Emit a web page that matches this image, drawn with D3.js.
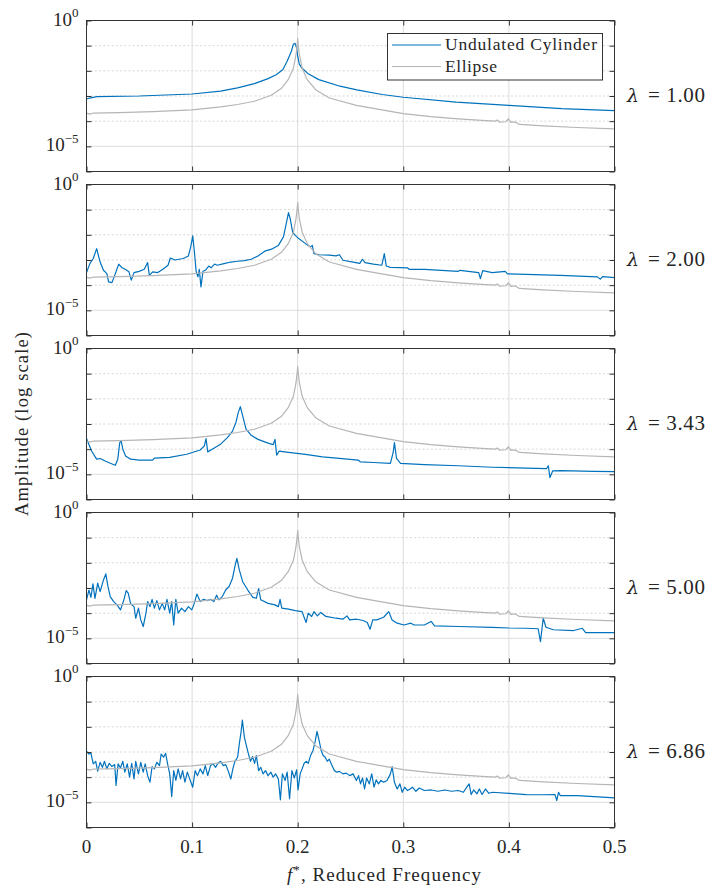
<!DOCTYPE html>
<html><head><meta charset="utf-8">
<script src="https://cdn.jsdelivr.net/npm/d3@7"></script>
<style>body{margin:0;background:#fff}svg{display:block}text{font-family:"Liberation Serif","Times New Roman",serif;fill:#262626}</style>
</head><body>
<svg id="chart" width="707" height="888"></svg>
<script>
// ---------- data ----------
const freqTicks = [0, 0.1, 0.2, 0.3, 0.4, 0.5];
const freqTickLabels = ["0", "0.1", "0.2", "0.3", "0.4", "0.5"];
const ampMajorTicks = [1, 1e-5];
const ampMajorLabels = [["10", "0"], ["10", "\u22125"]];
const ampMinorTicks = [1e-1, 1e-2, 1e-3, 1e-4];
const ampAllTicks = [1, 1e-1, 1e-2, 1e-3, 1e-4, 1e-5, 1e-6];
const lambdaLabels = ["1.00", "2.00", "3.43", "5.00", "6.86"];
const seriesNames = ["Undulated Cylinder", "Ellipse"];

// Ellipse reference spectrum (same in every panel): [f*, amplitude]
const ellipse = [[0,2.09e-4],[0.003,1.9e-4],[0.006,2.07e-4],[0.031,2.19e-4],[0.063,2.4e-4],[0.1,2.82e-4],[0.127,3.72e-4],[0.143,4.6e-4],[0.159,6.2e-4],[0.175,1.07e-3],[0.185,2.09e-3],[0.191,4.47e-3],[0.196,1.29e-2],[0.1984,4.37e-2],[0.1995,0.11],[0.2,0.19],[0.2005,0.11],[0.2016,4.37e-2],[0.2042,1.29e-2],[0.209,4.47e-3],[0.217,1.78e-3],[0.23,8.3e-4],[0.2556,4.27e-4],[0.2878,2.45e-4],[0.3,2.0e-4],[0.326,1.51e-4],[0.352,1.23e-4],[0.378,1.05e-4],[0.3875,1.0e-4],[0.389,1.12e-4],[0.391,9.1e-5],[0.397,9.5e-5],[0.3995,1.23e-4],[0.402,8.9e-5],[0.406,9.3e-5],[0.41,7.4e-5],[0.4325,6.5e-5],[0.4646,5.6e-5],[0.5,4.9e-5]];

// Undulated cylinder, lambda = 1.00
const cylinder1 = [[0,7.6e-4],[0.003,8.3e-4],[0.01,9.5e-4],[0.05,1.0e-3],[0.1,1.2e-3],[0.127,1.55e-3],[0.143,2.09e-3],[0.159,3.09e-3],[0.172,4.9e-3],[0.18,7.1e-3],[0.186,1.12e-2],[0.19,2.4e-2],[0.194,6.0e-2],[0.196,0.117],[0.1975,0.123],[0.199,8.1e-2],[0.2,3.8e-2],[0.2015,1.86e-2],[0.204,1.29e-2],[0.21,7.6e-3],[0.22,4.47e-3],[0.24,2.45e-3],[0.256,1.74e-3],[0.28,1.15e-3],[0.3,8.9e-4],[0.35,5.75e-4],[0.4,4.27e-4],[0.45,3.16e-4],[0.5,2.63e-4]];

// lambda = 2.00
const cylinder2 = [[0,3.16e-4],[0.0032,7.2e-4],[0.0064,1.15e-3],[0.0096,2.82e-3],[0.0129,8.3e-4],[0.0161,3.9e-4],[0.0193,2.88e-4],[0.0209,1.35e-4],[0.0241,1.26e-4],[0.0273,2.88e-4],[0.0305,6.8e-4],[0.0338,4.9e-4],[0.037,4.17e-4],[0.0402,3.39e-4],[0.0424,1.58e-4],[0.045,3.16e-4],[0.0498,3.55e-4],[0.0547,4.27e-4],[0.0579,7.9e-4],[0.0595,2.45e-4],[0.0627,3.39e-4],[0.0675,3.16e-4],[0.0723,4.27e-4],[0.0772,6.2e-4],[0.0794,1.2e-3],[0.0836,1.0e-3],[0.0916,1.15e-3],[0.0965,1.45e-3],[0.0987,3.31e-3],[0.1006,9.1e-3],[0.1019,2.82e-3],[0.1039,3.39e-4],[0.1055,2.14e-4],[0.1068,4.27e-4],[0.1084,8.5e-5],[0.1103,3.55e-4],[0.1125,3.9e-4],[0.1158,5.75e-4],[0.118,4.9e-4],[0.1212,6.9e-4],[0.1238,6.2e-4],[0.1302,7.2e-4],[0.1367,8.3e-4],[0.1431,8.9e-4],[0.1495,9.5e-4],[0.156,1.07e-3],[0.1624,1.45e-3],[0.1688,2.24e-3],[0.1752,2.69e-3],[0.1817,3.8e-3],[0.1865,8.3e-3],[0.1891,2.75e-2],[0.1913,7.6e-2],[0.1929,4.37e-2],[0.1952,1.29e-2],[0.1977,9.5e-3],[0.201,7.1e-3],[0.2074,4.47e-3],[0.2122,3.31e-3],[0.2138,3.8e-3],[0.2154,1.78e-3],[0.2203,1.62e-3],[0.2299,1.55e-3],[0.2363,1.45e-3],[0.2395,1.62e-3],[0.2428,9.8e-4],[0.2524,8.3e-4],[0.2588,7.4e-4],[0.2614,1.07e-3],[0.2637,7.9e-4],[0.2717,6.9e-4],[0.2797,6.2e-4],[0.282,1.78e-3],[0.2839,5.75e-4],[0.2878,5.1e-4],[0.3039,4.9e-4],[0.3055,4.27e-4],[0.3199,4.27e-4],[0.336,3.9e-4],[0.3521,3.55e-4],[0.3537,3.9e-4],[0.3714,3.16e-4],[0.373,1.82e-4],[0.3752,3.8e-4],[0.3842,3.16e-4],[0.3965,3.55e-4],[0.3987,2.82e-4],[0.4164,2.69e-4],[0.4486,2.45e-4],[0.4839,2.14e-4],[0.4865,1.74e-4],[0.4887,2.19e-4],[0.5,2.0e-4]];

// lambda = 3.43
const cylinder3 = [[0,2.63e-4],[0.0048,8.5e-5],[0.0096,4.0e-5],[0.0129,4.27e-5],[0.0177,3.39e-5],[0.0225,2.75e-5],[0.0273,2.29e-5],[0.0296,4.0e-5],[0.0315,1.82e-4],[0.0328,2.14e-4],[0.0344,1.0e-4],[0.037,5.4e-5],[0.0418,4.0e-5],[0.0498,3.7e-5],[0.0627,3.7e-5],[0.0643,4.37e-5],[0.0788,4.7e-5],[0.0949,6.3e-5],[0.1077,9.3e-5],[0.1116,1.35e-4],[0.1132,2.63e-4],[0.1148,7.8e-5],[0.119,1.0e-4],[0.127,1.58e-4],[0.1334,2.88e-4],[0.1383,5.2e-4],[0.1415,1.15e-3],[0.1437,2.82e-3],[0.1457,4.9e-3],[0.1479,2.09e-3],[0.1511,6.2e-4],[0.156,3.55e-4],[0.1624,2.45e-4],[0.172,1.74e-4],[0.1768,1.51e-4],[0.1785,2.45e-4],[0.1801,5.75e-5],[0.1823,8.3e-5],[0.1913,7.4e-5],[0.2074,6.2e-5],[0.2235,4.9e-5],[0.2395,4.27e-5],[0.2572,3.7e-5],[0.2595,3.1e-5],[0.2717,2.95e-5],[0.2878,2.75e-5],[0.2904,7.4e-5],[0.2916,1.82e-4],[0.2936,4.27e-5],[0.2974,2.75e-5],[0.3199,2.45e-5],[0.3521,2.19e-5],[0.3842,1.91e-5],[0.4164,1.78e-5],[0.4357,1.7e-5],[0.4373,2.19e-5],[0.4389,7.4e-6],[0.4415,1.38e-5],[0.4486,1.41e-5],[0.4807,1.32e-5],[0.5,1.29e-5]];

// lambda = 5.00
const cylinder4 = [[0,3.39e-4],[0.0023,8.3e-4],[0.0042,4.27e-4],[0.0061,1.45e-3],[0.008,3.9e-4],[0.0106,1.55e-3],[0.0129,7.2e-4],[0.0161,2.09e-3],[0.0183,3.63e-3],[0.0203,1.15e-3],[0.0225,4.57e-4],[0.0257,2.88e-4],[0.0289,2.14e-4],[0.0322,1.35e-4],[0.0354,3.39e-4],[0.0376,7.9e-4],[0.0395,6.2e-4],[0.0418,2.34e-4],[0.045,1.82e-4],[0.0466,6.3e-5],[0.0492,1.58e-4],[0.0514,5.4e-5],[0.0537,2.95e-5],[0.0563,1.0e-4],[0.0579,2.88e-4],[0.0601,1.82e-4],[0.0621,3.55e-4],[0.0643,1.58e-4],[0.0666,3.16e-4],[0.0691,1.35e-4],[0.0717,2.45e-4],[0.074,1.35e-4],[0.0762,3.55e-4],[0.0788,1.0e-4],[0.0807,2.88e-4],[0.0826,3.39e-5],[0.0846,3.55e-4],[0.0868,1.0e-4],[0.09,1.58e-4],[0.0932,1.15e-4],[0.0965,1.82e-4],[0.0997,1.35e-4],[0.1019,2.34e-4],[0.1045,5.75e-4],[0.1077,2.88e-4],[0.1109,3.55e-4],[0.1141,3.16e-4],[0.1174,3.55e-4],[0.1206,2.88e-4],[0.1232,5.2e-4],[0.1254,3.39e-4],[0.1286,4.57e-4],[0.1318,8.3e-4],[0.135,1.15e-3],[0.1383,2.45e-3],[0.1405,7.1e-3],[0.1424,1.51e-2],[0.1447,5.25e-3],[0.1479,1.78e-3],[0.1527,8.3e-4],[0.1576,4.27e-4],[0.1608,3.9e-4],[0.163,9.5e-4],[0.165,3.39e-4],[0.172,2.45e-4],[0.1785,2.14e-4],[0.1817,1.82e-4],[0.1833,3.55e-4],[0.1849,1.58e-4],[0.1913,1.45e-4],[0.1977,1.26e-4],[0.2042,1.15e-4],[0.2058,7.4e-5],[0.208,4.27e-5],[0.21,1.0e-4],[0.2132,7.4e-5],[0.2154,1.15e-4],[0.2186,7.8e-5],[0.2219,1.07e-4],[0.2267,7.4e-5],[0.2363,6.3e-5],[0.2428,5.75e-5],[0.2466,7.8e-5],[0.2492,5.4e-5],[0.2556,5.75e-5],[0.2621,5.1e-5],[0.2659,4.27e-5],[0.2685,2.29e-5],[0.2711,5.4e-5],[0.2749,5.4e-5],[0.2814,6.9e-5],[0.2862,1.15e-4],[0.2894,5.4e-5],[0.2942,4.0e-5],[0.3006,3.39e-5],[0.3071,4.0e-5],[0.3103,3.39e-5],[0.3199,3.39e-5],[0.3264,4.7e-5],[0.3296,3.1e-5],[0.3521,2.95e-5],[0.3842,2.75e-5],[0.4003,2.57e-5],[0.4164,2.51e-5],[0.4277,2.4e-5],[0.4299,7.4e-6],[0.4325,6.3e-5],[0.4351,2.75e-5],[0.4421,2.19e-5],[0.4614,2.04e-5],[0.4695,2.51e-5],[0.4727,1.7e-5],[0.5,1.7e-5]];

// lambda = 6.86
const cylinder5 = [[0,1.07e-3],[0.0023,8.3e-4],[0.0042,8.9e-4],[0.0064,3.39e-4],[0.0087,4.27e-4],[0.0106,1.74e-4],[0.0129,3.9e-4],[0.0151,2.45e-4],[0.017,4.27e-4],[0.0193,2.14e-4],[0.0215,3.55e-4],[0.0241,2.63e-4],[0.0267,3.16e-4],[0.028,4.7e-5],[0.0299,3.39e-4],[0.0322,2.34e-4],[0.0344,4.27e-4],[0.0363,1.58e-4],[0.0386,3.39e-4],[0.0408,1.0e-4],[0.0428,3.55e-4],[0.045,8.5e-5],[0.0466,4.27e-4],[0.0492,1.35e-4],[0.0514,3.9e-4],[0.0537,1.58e-4],[0.0556,3.39e-4],[0.0579,1.15e-4],[0.0601,6.3e-5],[0.0621,2.63e-4],[0.0643,2.14e-4],[0.0666,3.9e-4],[0.0691,2.88e-4],[0.0707,8.3e-4],[0.073,6.2e-4],[0.0749,8.9e-4],[0.0768,3.39e-4],[0.0788,1.35e-4],[0.0807,1.7e-5],[0.0826,1.82e-4],[0.0846,7.4e-5],[0.0868,2.14e-4],[0.0891,8.5e-5],[0.091,1.82e-4],[0.0932,6.3e-5],[0.0955,1.58e-4],[0.0981,7.8e-5],[0.1006,4.0e-5],[0.1029,1.82e-4],[0.1051,1.15e-4],[0.1077,2.14e-4],[0.1103,1.35e-4],[0.1125,2.88e-4],[0.1148,1.15e-4],[0.1174,2.88e-4],[0.1199,3.39e-4],[0.1222,2.45e-4],[0.1244,3.55e-4],[0.127,4.27e-4],[0.1296,2.88e-4],[0.1318,3.16e-4],[0.1341,1.82e-4],[0.1367,8.5e-5],[0.1386,2.14e-4],[0.1405,4.27e-4],[0.1431,6.2e-4],[0.1447,2.09e-3],[0.1463,6.0e-3],[0.1476,1.86e-2],[0.1495,3.8e-3],[0.1514,1.78e-3],[0.1534,8.3e-4],[0.1553,4.27e-4],[0.1572,6.6e-4],[0.1592,3.55e-4],[0.1608,7.2e-4],[0.163,1.82e-4],[0.165,2.45e-4],[0.1672,1.35e-4],[0.1695,1.82e-4],[0.172,1.15e-4],[0.1746,1.58e-4],[0.1768,1.0e-4],[0.1791,1.35e-4],[0.1817,8.5e-5],[0.1836,1.26e-5],[0.1855,1.35e-4],[0.1881,7.4e-5],[0.19,1.58e-4],[0.1923,1.38e-5],[0.1945,1.82e-4],[0.1968,9.3e-5],[0.199,1.95e-4],[0.2003,3.1e-5],[0.2023,1.35e-4],[0.2042,2.14e-4],[0.2061,3.55e-4],[0.208,4.27e-4],[0.21,3.55e-4],[0.2122,7.2e-4],[0.2145,1.15e-3],[0.2164,2.45e-3],[0.2183,6.6e-3],[0.2203,2.82e-3],[0.2222,1.15e-3],[0.2241,7.2e-4],[0.226,6.2e-4],[0.228,4.27e-4],[0.2299,5.2e-4],[0.2325,2.88e-4],[0.2347,1.82e-4],[0.237,1.58e-4],[0.2395,1.7e-4],[0.2428,1.35e-4],[0.246,1.45e-4],[0.2492,1.15e-4],[0.2524,1.35e-4],[0.2556,7.4e-5],[0.2576,1.15e-4],[0.2595,5.4e-5],[0.2614,9.3e-5],[0.2633,3.39e-5],[0.2653,9.3e-5],[0.2678,5.4e-5],[0.2701,1.35e-4],[0.2723,4.0e-5],[0.2743,7.8e-5],[0.2765,5.4e-5],[0.2788,7.4e-5],[0.2814,6.3e-5],[0.2846,7.4e-5],[0.2878,1.35e-4],[0.2894,2.63e-4],[0.2916,6.3e-5],[0.2942,3.39e-5],[0.2968,5.4e-5],[0.299,2.51e-5],[0.3013,4.0e-5],[0.3039,2.95e-5],[0.3064,3.39e-5],[0.3087,4.0e-5],[0.3119,2.75e-5],[0.3151,3.7e-5],[0.3199,2.95e-5],[0.3264,3.1e-5],[0.3328,2.75e-5],[0.3392,3.1e-5],[0.3457,2.75e-5],[0.3521,2.95e-5],[0.3569,2.51e-5],[0.3601,4.0e-5],[0.3624,5.4e-5],[0.3643,2.04e-5],[0.3666,3.1e-5],[0.3698,2.19e-5],[0.372,3.39e-5],[0.3746,2.04e-5],[0.3778,3.39e-5],[0.381,2.29e-5],[0.3842,2.51e-5],[0.4003,2.29e-5],[0.4164,2.04e-5],[0.4325,2.0e-5],[0.4437,2.04e-5],[0.4453,1.17e-5],[0.447,2.51e-5],[0.4486,1.86e-5],[0.4646,1.86e-5],[0.4807,1.7e-5],[0.5,1.51e-5]];

const cylinders = [cylinder1, cylinder2, cylinder3, cylinder4, cylinder5];

// ---------- layout ----------
const svg = d3.select("#chart");
const panelH = 151, panelStep = 164, firstTop = 20.5;
const x = d3.scaleLinear().domain([0, 0.5]).range([86.5, 614.5]);
const y = d3.scaleLog().domain([1e-6, 1]).range([panelH, 0]);
const blue = "#0072BD", grey = "#b5b5b5", axisCol = "#333333";
const line = d3.line().x(d => x(d[0])).y(d => y(d[1]));

svg.append("defs").append("clipPath").attr("id", "clip")
  .append("rect").attr("x", x(0)).attr("y", 0).attr("width", x(0.5) - x(0)).attr("height", panelH);

cylinders.forEach((cyl, i) => {
  const top = firstTop + panelStep * i;
  const g = svg.append("g").attr("transform", `translate(0,${top})`);

  // grid
  g.selectAll(".vgrid").data(freqTicks.slice(1, -1)).join("line")
    .attr("x1", d => x(d)).attr("x2", d => x(d)).attr("y1", 0).attr("y2", panelH)
    .attr("stroke", "#dcdcdc").attr("stroke-width", 1);
  g.selectAll(".minor").data(ampMinorTicks).join("line")
    .attr("x1", x(0)).attr("x2", x(0.5)).attr("y1", d => y(d)).attr("y2", d => y(d))
    .attr("stroke", "#d2d2d2").attr("stroke-width", 0.9).attr("stroke-dasharray", "2,2.2");
  g.selectAll(".major").data([1e-5]).join("line")
    .attr("x1", x(0)).attr("x2", x(0.5)).attr("y1", d => y(d)).attr("y2", d => y(d))
    .attr("stroke", "#dcdcdc").attr("stroke-width", 1);

  // series
  const plot = g.append("g").attr("clip-path", "url(#clip)");
  plot.append("path").datum(cyl).attr("d", line)
    .attr("fill", "none").attr("stroke", blue).attr("stroke-width", 1.2).attr("stroke-linejoin", "round");
  plot.append("path").datum(ellipse).attr("d", line)
    .attr("fill", "none").attr("stroke", grey).attr("stroke-width", 1.2).attr("stroke-linejoin", "round");

  // ticks (inward) on all four sides
  const tickStyle = sel => { sel.select(".domain").remove(); sel.selectAll("line").attr("stroke", axisCol); sel.selectAll("text").remove(); };
  g.append("g").attr("transform", `translate(${x(0)},0)`)
    .call(d3.axisLeft(y).tickValues(ampAllTicks).tickSizeInner(-5).tickSizeOuter(0).tickFormat(""))
    .call(tickStyle);
  g.append("g").attr("transform", `translate(${x(0.5)},0)`)
    .call(d3.axisRight(y).tickValues(ampAllTicks).tickSizeInner(-5).tickSizeOuter(0).tickFormat(""))
    .call(tickStyle);
  g.append("g").attr("transform", `translate(0,0)`)
    .call(d3.axisTop(x).tickValues(freqTicks).tickSizeInner(-5).tickSizeOuter(0).tickFormat(""))
    .call(tickStyle);
  g.append("g").attr("transform", `translate(0,${panelH})`)
    .call(d3.axisBottom(x).tickValues(freqTicks).tickSizeInner(-5).tickSizeOuter(0).tickFormat(""))
    .call(tickStyle);

  // box
  g.append("rect").attr("x", x(0)).attr("y", 0).attr("width", x(0.5) - x(0)).attr("height", panelH)
    .attr("fill", "none").attr("stroke", axisCol).attr("stroke-width", 1);

  // y tick labels
  ampMajorTicks.forEach((v, k) => {
    const t = g.append("text").attr("x", 78.5).attr("y", y(v) + 5)
      .attr("text-anchor", "end").attr("font-size", 19);
    t.append("tspan").text(ampMajorLabels[k][0]);
    t.append("tspan").attr("dy", -8.5).attr("font-size", 13).text(ampMajorLabels[k][1]);
  });

  // lambda label (symbol and value as separate text runs)
  g.append("text").attr("x", 627).attr("y", 81).attr("font-size", 19)
    .style("font-family", "'DejaVu Serif', serif").style("font-style", "italic").text("\u03BB");
  g.append("text").attr("x", 648).attr("y", 81).attr("font-size", 21)
    .attr("textLength", 57).attr("lengthAdjust", "spacing")
    .text("= " + lambdaLabels[i]);

  // x tick labels on bottom panel
  if (i === cylinders.length - 1) {
    g.selectAll(".xlab").data(freqTicks).join("text")
      .attr("x", d => x(d)).attr("y", panelH + 25).attr("text-anchor", "middle")
      .attr("font-size", 19).text((d, k) => freqTickLabels[k]);
  }

  // legend in first panel
  if (i === 0) {
    const lg = svg.append("g");
    lg.append("rect").attr("x", 387.5).attr("y", 33.5).attr("width", 215).attr("height", 46.5)
      .attr("fill", "#fff").attr("stroke", axisCol).attr("stroke-width", 1);
    [[blue, 45], [grey, 66.5]].forEach(([c, yy], k) => {
      lg.append("line").attr("x1", 392).attr("x2", 441).attr("y1", yy).attr("y2", yy)
        .attr("stroke", c).attr("stroke-width", 1.2);
      lg.append("text").attr("x", 445).attr("y", yy + 5.3).attr("font-size", 17.5)
        .attr("textLength", k === 0 ? 152 : 52).attr("lengthAdjust", "spacing").text(seriesNames[k]);
    });
  }
});

// axis titles
const xt = svg.append("text").attr("x", 287).attr("y", 880.5).attr("font-size", 19)
  .attr("textLength", 194).attr("lengthAdjust", "spacing");
xt.append("tspan").attr("font-style", "italic").text("f");
xt.append("tspan").attr("dy", -7).attr("font-size", 13).text("*");
xt.append("tspan").attr("dy", 7).text(", Reduced Frequency");

svg.append("text").attr("transform", "translate(28,424) rotate(-90)")
  .attr("text-anchor", "middle").attr("font-size", 18.5)
  .attr("textLength", 184).attr("lengthAdjust", "spacing")
  .text("Amplitude (log scale)");
</script>
</body></html>
